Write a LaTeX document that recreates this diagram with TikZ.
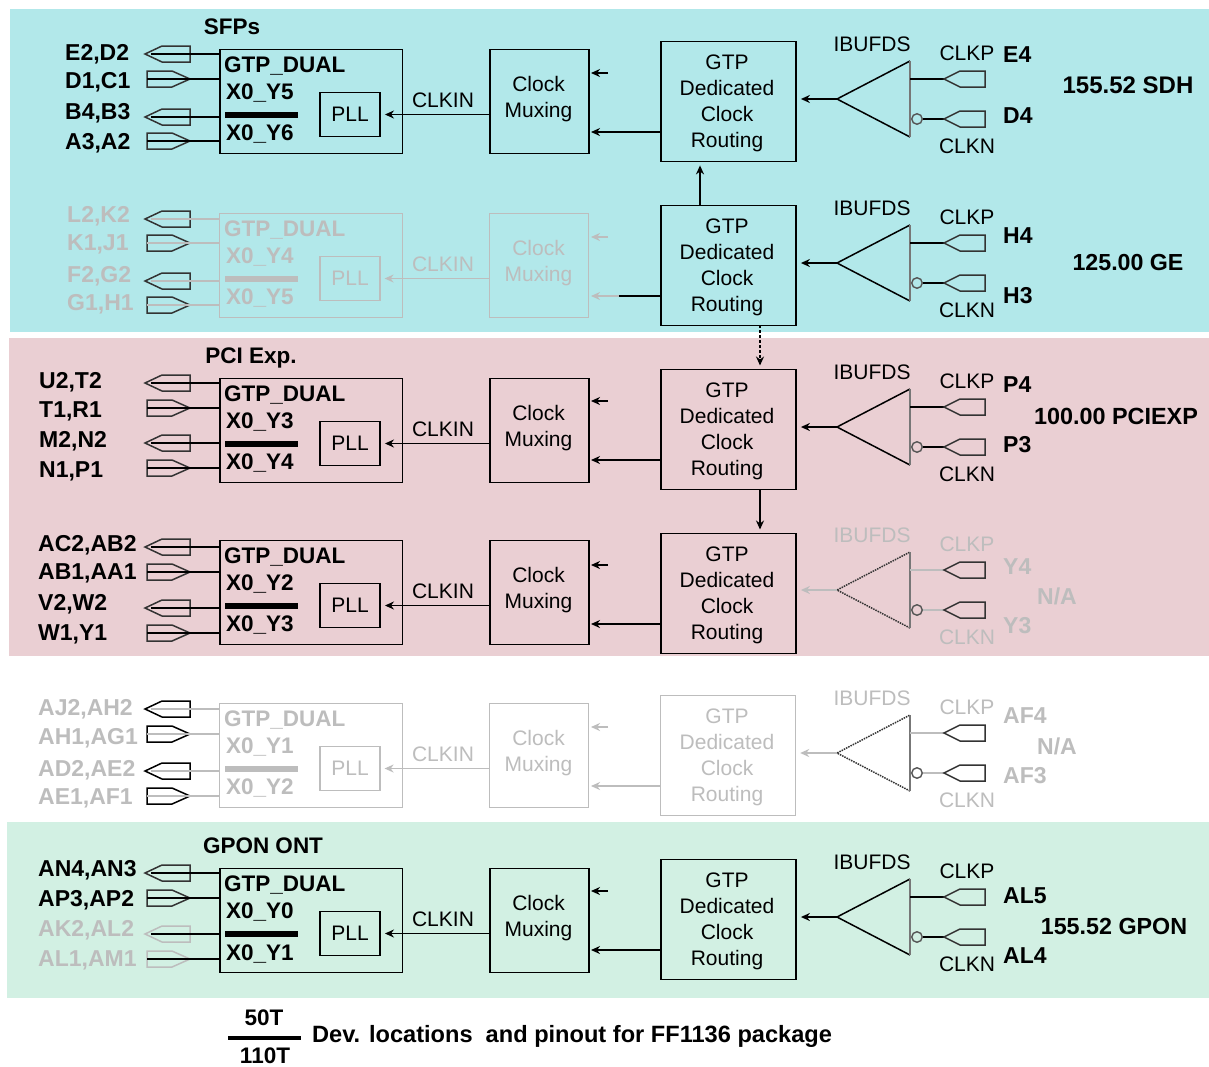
\documentclass[tikz,border=0pt]{standalone}
\usepackage{fontspec}
\setmainfont{Liberation Sans}
\usetikzlibrary{arrows.meta}
\definecolor{bgcyan}{HTML}{B2E8EA}
\definecolor{bgpink}{HTML}{EACFD3}
\definecolor{bggreen}{HTML}{D2F0E3}
\definecolor{gr}{HTML}{BDBDBD}
\definecolor{dk}{HTML}{333333}
\definecolor{sidegr}{HTML}{777777}
\definecolor{ring}{HTML}{555555}
\tikzset{
  x=1pt,y=-1pt,
  boxline/.style={draw,line width=1.9pt,inner sep=0pt},
  thinbox/.style={draw,line width=1.2pt,inner sep=0pt},
  reg/.style={font=\fontsize{21}{26}\selectfont,inner sep=0pt,align=center},
  bld/.style={font=\fontsize{22.5}{26}\bfseries\selectfont,inner sep=0pt},
  pinlab/.style={font=\fontsize{23}{26}\bfseries\selectfont,inner sep=0pt},
  wire/.style={line width=1.7pt},
  thinwire/.style={line width=1.1pt},
  pinline/.style={line width=1.5pt,line join=miter},
  tip/.style={-{Stealth[length=9pt,width=8pt]}},
}
% #1 id, #2 top, #3 colour, #4 X0 a, #5 X0 b, #6 line style
\newcommand\DualRow[6]{%
  \node[#6,#3,minimum width=182.5pt,minimum height=104pt,anchor=north west] (d#1) at (219,#2-0.5) {};
  \node[bld,#3,anchor=west] (dt#1) at (224,#2+17) {GTP\_DUAL};
  \node[bld,#3,anchor=west] (da#1) at (226,#2+44.5) {#4};
  \node[bld,#3,anchor=west] (db#1) at (226,#2+85.5) {#5};
  \node[fill=#3,minimum width=73pt,minimum height=6.5pt,inner sep=0pt,anchor=west] (bar#1) at (225,#2+66) {};
  \node[#6,#3,reg,minimum width=60pt,minimum height=44pt] (pll#1) at (350,#2+65.5) {PLL};
  \node[#6,#3,minimum width=99pt,minimum height=104pt,anchor=north west] (mx#1) at (489,#2-0.5) {};
  \node[reg,#3] (mt#1) at (538.5,#2+50) {Clock\\Muxing};
  \node[reg,#3] (ck#1) at (443,#2+51) {CLKIN};
  \draw[wire,#3,tip] (mx#1.west |- pll#1) -- ([xshift=4pt]pll#1.east);
}
% #1 id, #2 top, #3 colour, #4 left colour, #5 line style
\newcommand\RoutRow[5]{%
  \node[#5,#3,minimum width=135pt,minimum height=120pt,anchor=north west] (r#1) at (660,#2-0.5) {};
  \node[reg,#3,yshift=-3pt] (rt#1) at (727,#2+59.5) {GTP\\Dedicated\\Clock\\Routing};
  \coordinate (sa#1) at (608,#2+32);
  \coordinate (sb#1) at (619,#2+91);
  \coordinate (ta#1) at (591,#2+32);
  \coordinate (tb#1) at (591,#2+91);
  \draw[wire,#4,tip] (sa#1) -- (ta#1);
  \draw[wire,#3] (r#1.west |- sb#1) -- (sb#1);
  \draw[wire,#4,tip] (sb#1) -- (tb#1);
}
% #1 id, #2 apex y, #3 text/wire colour, #4 triangle style, #5 bar colour
\newcommand\BufRow[5]{%
  \coordinate (ap#1) at (837,#2);
  \coordinate (tt#1) at (910,#2-38);
  \coordinate (tb#1x) at (910,#2+38);
  \draw[line width=1.5pt,#4] (tb#1x) -- (ap#1) -- (tt#1);
  \draw[line width=1.9pt,#5] (tt#1) -- (tb#1x);
  \draw[wire,#3,tip] (ap#1) -- ([xshift=4pt]r#1.east |- ap#1);
  \node[reg,#3] (ib#1) at (872,#2-55) {IBUFDS};
  \node[reg,#3] (cp#1) at (967,#2-46) {CLKP};
  \node[reg,#3] (cn#1) at (967,#2+47) {CLKN};
  \node[circle,draw=ring,line width=1.4pt,minimum size=10.5pt,inner sep=0pt] (bub#1) at (917,#2+20) {};
  \coordinate (pp#1) at (944,#2-20);
  \coordinate (pn#1) at (944,#2+20);
  \draw[wire,#3] (tt#1 |- pp#1) -- (pp#1);
  \draw[wire,#3] (bub#1) -- (pn#1);
  \draw[pinline,dk] (pp#1) -- ++(16,-8) -- ++(25,0) -- ++(0,16) -- ++(-25,0) -- cycle;
  \draw[pinline,dk] (pn#1) -- ++(16,-8) -- ++(25,0) -- ++(0,16) -- ++(-25,0) -- cycle;
}
% name, pin y, label y, label, label colour, pin colour, wire colour, target
\newcommand\PinOut[8]{%
  \coordinate (#1) at (190,#2);
  \draw[pinline,#6] (145,#2) -- (162,#2-8) -- (190,#2-8) -- (190,#2+8) -- (162,#2+8) -- cycle;
  \draw[thinwire,#7] (151,#2) -- (#1);
  \draw[wire,#7] (#1) -- (#8.west |- #1);
  \node[pinlab,#5,anchor=west] (#1l) at (\lblx,#3) {#4};
}
\newcommand\PinIn[8]{%
  \coordinate (#1) at (190,#2);
  \draw[pinline,#6] (147,#2-8) -- (172,#2-8) -- (190,#2) -- (172,#2+8) -- (147,#2+8) -- cycle;
  \draw[thinwire,#7] (147,#2) -- (#1);
  \draw[wire,#7] (#1) -- (#8.west |- #1);
  \node[pinlab,#5,anchor=west] (#1l) at (\lblx,#3) {#4};
}
\begin{document}
\begin{tikzpicture}
\path[use as bounding box,fill=white] (0,0) rectangle (1209,1066);
\fill[bgcyan] (10,9) rectangle (1209,332);
\fill[bgpink] (9,338) rectangle (1209,656);
\fill[bggreen] (7,822) rectangle (1209,998);

\node[bld] (sfp) at (232,27) {SFPs};
\node[bld] (pci) at (251,358) {PCI Exp.};
\node[bld] (gpon) at (263,846) {GPON ONT};

% Row 1
\def\lblx{65}
\DualRow{1}{49}{black}{X0\_Y5}{X0\_Y6}{boxline}
\RoutRow{1}{41}{black}{black}{boxline}
\BufRow{1}{99}{black}{draw=black}{sidegr}
\PinOut{a1}{54}{54}{E2,D2}{black}{dk}{black}{d1}
\PinIn{a2}{79}{82}{D1,C1}{black}{dk}{black}{d1}
\PinOut{a3}{117}{113}{B4,B3}{black}{dk}{black}{d1}
\PinIn{a4}{141}{143}{A3,A2}{black}{dk}{black}{d1}
% Row 2
\def\lblx{67}
\DualRow{2}{213}{gr}{X0\_Y4}{X0\_Y5}{thinbox}
\RoutRow{2}{205}{black}{gr}{boxline}
\BufRow{2}{263}{black}{draw=black}{sidegr}
\PinOut{b1}{219}{216}{L2,K2}{gr}{dk}{gr}{d2}
\PinIn{b2}{243}{244}{K1,J1}{gr}{dk}{gr}{d2}
\PinOut{b3}{281}{276}{F2,G2}{gr}{dk}{gr}{d2}
\PinIn{b4}{305}{304}{G1,H1}{gr}{dk}{gr}{d2}
% Row 3
\def\lblx{39}
\DualRow{3}{378}{black}{X0\_Y3}{X0\_Y4}{boxline}
\RoutRow{3}{369}{black}{black}{boxline}
\BufRow{3}{427}{black}{draw=black}{sidegr}
\PinOut{c1}{383}{382}{U2,T2}{black}{dk}{black}{d3}
\PinIn{c2}{408}{411}{T1,R1}{black}{dk}{black}{d3}
\PinOut{c3}{443}{441}{M2,N2}{black}{dk}{black}{d3}
\PinIn{c4}{468}{471}{N1,P1}{black}{dk}{black}{d3}
% Row 4
\def\lblx{38}
\DualRow{4}{540}{black}{X0\_Y2}{X0\_Y3}{boxline}
\RoutRow{4}{533}{black}{black}{boxline}
\BufRow{4}{590}{gr}{dk,densely dotted}{sidegr}
\PinOut{e1}{547}{545}{AC2,AB2}{black}{dk}{black}{d4}
\PinIn{e2}{572}{573}{AB1,AA1}{black}{dk}{black}{d4}
\PinOut{e3}{608}{604}{V2,W2}{black}{dk}{black}{d4}
\PinIn{e4}{633}{634}{W1,Y1}{black}{dk}{black}{d4}
% Row 5
\DualRow{5}{703}{gr}{X0\_Y1}{X0\_Y2}{thinbox}
\RoutRow{5}{695}{gr}{gr}{thinbox}
\BufRow{5}{753}{gr}{dk,densely dotted}{sidegr}
\PinOut{f1}{709}{709}{AJ2,AH2}{gr}{black}{gr}{d5}
\PinIn{f2}{734}{738}{AH1,AG1}{gr}{black}{gr}{d5}
\PinOut{f3}{771}{770}{AD2,AE2}{gr}{black}{gr}{d5}
\PinIn{f4}{796}{798}{AE1,AF1}{gr}{black}{gr}{d5}
% Row 6
\DualRow{6}{868}{black}{X0\_Y0}{X0\_Y1}{boxline}
\RoutRow{6}{859}{black}{black}{boxline}
\BufRow{6}{917}{black}{draw=black}{sidegr}
\PinOut{g1}{873}{870}{AN4,AN3}{black}{dk}{black}{d6}
\PinIn{g2}{898}{900}{AP3,AP2}{black}{dk}{black}{d6}
\PinOut{g3}{934}{930}{AK2,AL2}{gr}{gr}{black}{d6}
\PinIn{g4}{959}{960}{AL1,AM1}{gr}{gr}{black}{d6}

% vertical links between routing blocks
\coordinate (u1) at (700,205);
\coordinate (u2) at (760,325);
\coordinate (u3) at (760,489);
\draw[wire,tip] (u1) -- ([yshift=-3pt]r1.south -| u1);
\draw[wire,densely dashed,tip] (u2) -- ([yshift=3pt]r3.north -| u2);
\draw[wire,tip] (u3) -- ([yshift=3pt]r4.north -| u3);

% pad labels
\node[pinlab,anchor=west] (pE4) at (1003,55) {E4};
\node[pinlab,anchor=west] (pD4) at (1003,116) {D4};
\node[pinlab,anchor=west] (pH4) at (1003,236) {H4};
\node[pinlab,anchor=west] (pH3) at (1003,296) {H3};
\node[pinlab,anchor=west] (pP4) at (1003,385) {P4};
\node[pinlab,anchor=west] (pP3) at (1003,445) {P3};
\node[pinlab,gr,anchor=west] (pY4) at (1003,567) {Y4};
\node[pinlab,gr,anchor=west] (pY3) at (1003,626) {Y3};
\node[pinlab,gr,anchor=west] (pAF4) at (1003,716) {AF4};
\node[pinlab,gr,anchor=west] (pAF3) at (1003,776) {AF3};
\node[pinlab,anchor=west] (pAL5) at (1003,896) {AL5};
\node[pinlab,anchor=west] (pAL4) at (1003,956) {AL4};

% rate labels
\node[pinlab,font=\fontsize{24}{28}\bfseries\selectfont] (rSDH) at (1128,85) {155.52 SDH};
\node[pinlab,font=\fontsize{23.2}{28}\bfseries\selectfont] (rGE) at (1128,263) {125.00 GE};
\node[pinlab,font=\fontsize{23.4}{28}\bfseries\selectfont] (rPCI) at (1116,416) {100.00 PCIEXP};
\node[pinlab,gr] (rNA1) at (1057,596) {N/A};
\node[pinlab,gr] (rNA2) at (1057,746) {N/A};
\node[pinlab,font=\fontsize{23.3}{28}\bfseries\selectfont] (rGPON) at (1114,926) {155.52 GPON};

% footer
\node[bld] (n50) at (264,1018) {50T};
\node[fill=black,minimum width=73pt,minimum height=4pt,inner sep=0pt] (fbar) at (264,1038) {};
\node[bld] (n110) at (265,1056) {110T};
\node[bld,font=\fontsize{23.6}{26}\bfseries\selectfont,anchor=west] (cap) at (312,1036) {Dev. locations\ \ and pinout for FF1136 package};
\end{tikzpicture}
\end{document}
